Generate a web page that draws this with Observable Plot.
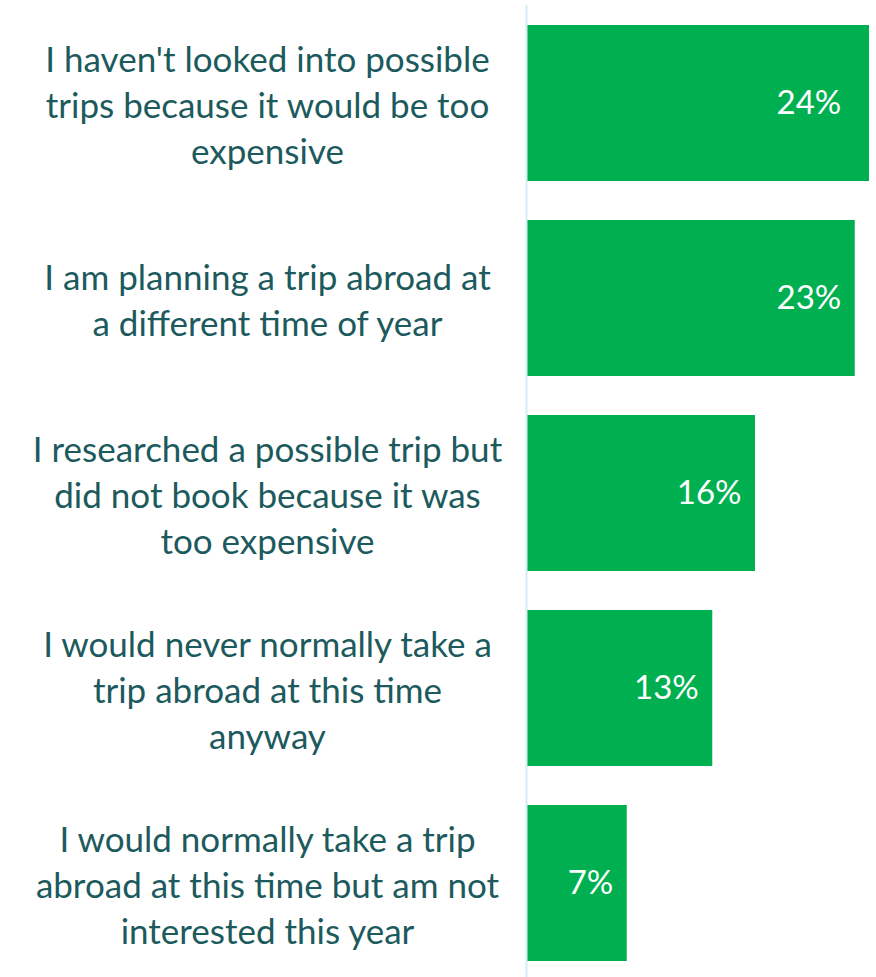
<!DOCTYPE html>
<html>
<head>
<meta charset="utf-8">
<script src="https://cdn.jsdelivr.net/npm/d3@7"></script>
<script src="https://cdn.jsdelivr.net/npm/@observablehq/plot@0.6"></script>
<style>
  html, body { margin: 0; padding: 0; background: #fff; }
</style>
</head>
<body>
<div id="chart"></div>
<script>
const categories = [
  "I haven't looked into possible\ntrips because it would be too\nexpensive",
  "I am planning a trip abroad at\na different time of year",
  "I researched a possible trip but\ndid not book because it was\ntoo expensive",
  "I would never normally take a\ntrip abroad at this time\nanyway",
  "I would normally take a trip\nabroad at this time but am not\ninterested this year"
];
const values = [24, 23, 16, 13, 7];
const valueLabels = ["24%", "23%", "16%", "13%", "7%"];

const data = categories.map((c, i) => ({category: c, value: values[i], label: valueLabels[i]}));

const chart = Plot.plot({
  width: 876,
  height: 977,
  marginLeft: 527,
  marginRight: 7,
  marginTop: 5,
  marginBottom: 0,
  style: {fontFamily: "Lato, 'Open Sans', sans-serif", color: "#1c5a5d", background: "#fff"},
  x: {domain: [0, 24], axis: null},
  y: {domain: categories, range: [5, 980], paddingInner: 0.2, paddingOuter: 0.1, label: null},
  marks: [
    Plot.barX(data, {x: "value", y: "category", fill: "#00b050"}),
    Plot.ruleX([0], {stroke: "#d4eef3", strokeWidth: 2, dx: -1}),
    Plot.text(data, {x: d => Math.min(d.value, 23), y: "category", text: "label", textAnchor: "end", dx: -14, fill: "#fff", fontSize: 33}),
    Plot.axisY({tickSize: 0, tickPadding: 260, textAnchor: "middle", fontSize: 35, lineHeight: 1.31, label: null})
  ]
});
document.getElementById("chart").appendChild(chart);
</script>
</body>
</html>
